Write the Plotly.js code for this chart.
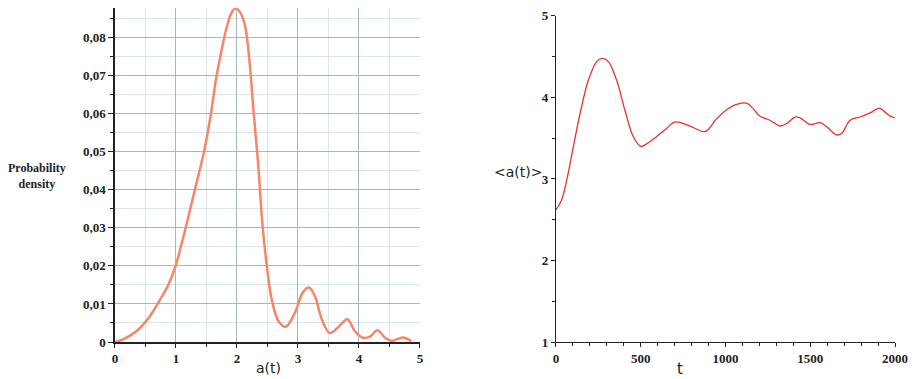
<!DOCTYPE html>
<html>
<head>
<meta charset="utf-8">
<script src="https://cdn.plot.ly/plotly-3.0.1.min.js"></script>
<style>html,body{margin:0;padding:0;background:#fff;}#chart{width:912px;height:379px;}</style>
</head>
<body>
<div id="chart"></div>
<script>
// Left panel: probability density of a(t)
var aValues = [0, 0.136, 0.355, 0.574, 0.738, 0.874, 0.995, 1.08, 1.16, 1.31, 1.46, 1.574, 1.656, 1.74, 1.83, 1.92, 1.984, 2.05, 2.13, 2.213, 2.27, 2.35, 2.42, 2.49, 2.57, 2.68, 2.80, 2.95, 3.08, 3.18, 3.28, 3.39, 3.52, 3.66, 3.81, 3.93, 4.07, 4.18, 4.30, 4.43, 4.54, 4.72, 4.86];
var density = [0, 0.0007, 0.0029, 0.0068, 0.0111, 0.0150, 0.0200, 0.0250, 0.0300, 0.0400, 0.0500, 0.0600, 0.0690, 0.0760, 0.0826, 0.0868, 0.0877, 0.0867, 0.0833, 0.0726, 0.0610, 0.0463, 0.0305, 0.0200, 0.0112, 0.0055, 0.0040, 0.0077, 0.0130, 0.0143, 0.0120, 0.0060, 0.0024, 0.0039, 0.0060, 0.0029, 0.0011, 0.0014, 0.0031, 0.0011, 0.0003, 0.0012, 0.0002];

// Right panel: mean <a(t)> over time
var tValues = [0, 33, 63, 102, 142, 191, 240, 273, 309, 358, 407, 456, 500, 535, 594, 653, 702, 751, 810, 869, 889, 948, 1007, 1056, 1125, 1164, 1203, 1262, 1322, 1361, 1410, 1440, 1499, 1558, 1597, 1656, 1686, 1735, 1794, 1853, 1908, 1941, 1971, 2000];
var meanA = [2.62, 2.74, 2.98, 3.39, 3.80, 4.21, 4.44, 4.48, 4.44, 4.21, 3.84, 3.52, 3.40, 3.43, 3.52, 3.62, 3.70, 3.68, 3.63, 3.58, 3.59, 3.74, 3.85, 3.91, 3.93, 3.86, 3.77, 3.72, 3.65, 3.68, 3.76, 3.75, 3.67, 3.69, 3.64, 3.54, 3.56, 3.72, 3.76, 3.81, 3.87, 3.82, 3.77, 3.75];

var serifTick = {family: 'Liberation Serif, Times New Roman, serif', size: 13, color: '#222', weight: 'bold'};

var traces = [
  {x: aValues, y: density, type: 'scatter', mode: 'lines', xaxis: 'x', yaxis: 'y',
   line: {color: '#f4866c', width: 2.5, shape: 'spline', smoothing: 1}, hoverinfo: 'skip', cliponaxis: false},
  {x: tValues, y: meanA, type: 'scatter', mode: 'lines', xaxis: 'x2', yaxis: 'y2',
   line: {color: '#e8322a', width: 1.3, shape: 'spline', smoothing: 1}, hoverinfo: 'skip'}
];

var layout = {
  width: 912, height: 379,
  margin: {l: 0, r: 0, t: 0, b: 0},
  paper_bgcolor: '#fff', plot_bgcolor: '#fff',
  separators: ', ',
  showlegend: false,
  xaxis: {
    domain: [0.126, 0.4605], range: [0, 5], anchor: 'y',
    tick0: 0, dtick: 1,
    showgrid: true, gridcolor: '#a3b7c7', gridwidth: 1,
    zeroline: false, showline: true, linecolor: '#222', linewidth: 1.5,
    ticks: 'outside', ticklen: 4, tickcolor: '#222',
    tickfont: serifTick,
    minor: {dtick: 0.5, showgrid: true, gridcolor: '#dde5ec', ticks: 'outside', ticklen: 3, tickcolor: '#222'}
  },
  yaxis: {
    domain: [0.0976, 0.979], range: [0, 0.0878], anchor: 'x',
    tick0: 0, dtick: 0.01, tickformat: '.2~f',
    showgrid: true, gridcolor: '#a3b7c7', gridwidth: 1,
    zeroline: false, showline: true, linecolor: '#222', linewidth: 1.5,
    ticks: 'outside', ticklen: 5, tickcolor: '#222',
    tickfont: serifTick,
    minor: {dtick: 0.005, showgrid: true, gridcolor: '#dde5ec', ticks: 'outside', ticklen: 3, tickcolor: '#222'}
  },
  xaxis2: {
    domain: [0.6096, 0.9814], range: [0, 2000], anchor: 'y2',
    tick0: 0, dtick: 500,
    showgrid: false, zeroline: false, showline: true, linecolor: '#222', linewidth: 1.2,
    ticks: 'outside', ticklen: 4, tickcolor: '#222',
    tickfont: serifTick,
    minor: {dtick: 100, ticks: 'outside', ticklen: 3, tickcolor: '#222', showgrid: false}
  },
  yaxis2: {
    domain: [0.0976, 0.958], range: [1, 5], anchor: 'x2',
    tick0: 1, dtick: 1,
    showgrid: false, zeroline: false, showline: true, linecolor: '#222', linewidth: 1.2,
    ticks: 'outside', ticklen: 4, tickcolor: '#222',
    tickfont: serifTick,
    minor: {dtick: 0.5, ticks: 'outside', ticklen: 3, tickcolor: '#222', showgrid: false}
  },
  annotations: [
    {text: 'Probability<br>density', xref: 'paper', yref: 'paper', x: 37 / 912, y: 1 - 176 / 379,
     xanchor: 'center', yanchor: 'middle', showarrow: false, align: 'center',
     font: {family: 'Liberation Serif, Times New Roman, serif', size: 12, color: '#222', weight: 'bold'}},
    {text: 'a(t)', xref: 'paper', yref: 'paper', x: 268 / 912, y: 1 - 368 / 379,
     xanchor: 'center', yanchor: 'middle', showarrow: false,
     font: {family: 'DejaVu Sans, sans-serif', size: 14, color: '#222'}},
    {text: '&lt;a(t)&gt;', xref: 'paper', yref: 'paper', x: 518 / 912, y: 1 - 172 / 379,
     xanchor: 'center', yanchor: 'middle', showarrow: false,
     font: {family: 'DejaVu Sans, sans-serif', size: 14, color: '#222'}},
    {text: 't', xref: 'paper', yref: 'paper', x: 680 / 912, y: 1 - 369 / 379,
     xanchor: 'center', yanchor: 'middle', showarrow: false,
     font: {family: 'DejaVu Sans, sans-serif', size: 15, color: '#222'}}
  ]
};

Plotly.newPlot('chart', traces, layout, {staticPlot: true, displayModeBar: false});
</script>
</body>
</html>
